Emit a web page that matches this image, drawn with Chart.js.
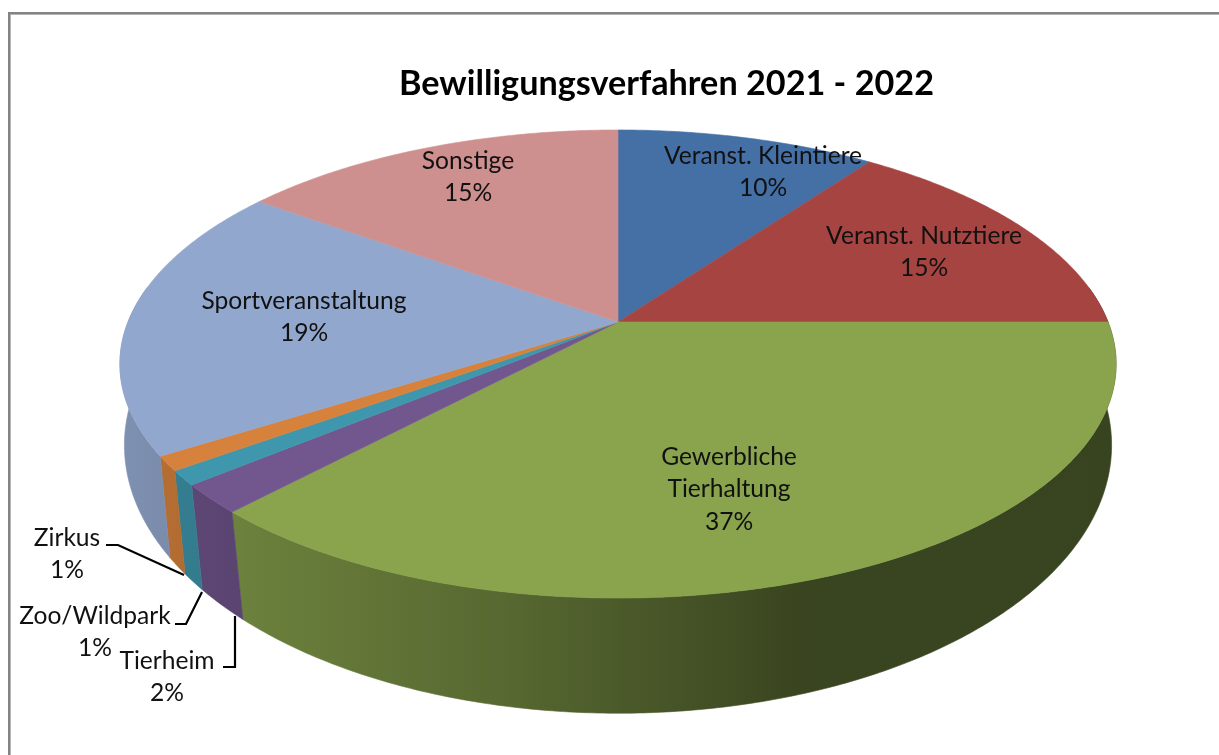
<!DOCTYPE html>
<html lang="de">
<head>
<meta charset="utf-8">
<title>Bewilligungsverfahren 2021 - 2022</title>
<script src="https://cdn.jsdelivr.net/npm/chart.js@4/dist/chart.umd.js"></script>
<style>
    html, body { margin: 0; padding: 0; background: #fff; overflow: hidden; }
    .frame {
        position: absolute; left: 8px; top: 12px; right: 0; bottom: 0;
        border-top: 2px solid #848484; border-left: 2px solid #848484;
        box-shadow: inset 1px 1px 0 #b4b4b4;
    }
    canvas { position: absolute; left: 0; top: 0; }
</style>
</head>
<body>
<div class="frame"></div>
<canvas id="chart" width="1219" height="755"></canvas>
<script>
// --- Data ---
const categories = ['Veranst. Kleintiere', 'Veranst. Nutztiere', 'Gewerbliche\nTierhaltung', 'Tierheim', 'Zoo/Wildpark', 'Zirkus', 'Sportveranstaltung', 'Sonstige'];
const shares = [10, 15, 37, 2, 1, 1, 19, 15];
const sliceColors = ['#4470A5', '#A64442', '#89A44D', '#72568E', '#3F97AD', '#D7823C', '#92A7CD', '#CE908F'];
const chartTitle = 'Bewilligungsverfahren 2021 - 2022';

// Label anchors (centre x, middle of the first line), same order as categories
const labelX = [763, 924, 729, 167, 95, 67, 304, 468];
const labelY = [156, 236, 457, 661, 616, 538, 301, 161];
const labelLineHeight = 32.5;

// Leader lines for the three thin slices
const leaders = {
    3: [[223, 667], [235, 667], [235, 616]],
    4: [[175, 624], [186, 624], [202, 592]],
    5: [[106, 545], [118, 545], [184, 575]]
};

// Perspective of the tilted disc: top face and (smaller) bottom face
const cx = 618;
const topFace = { r: 490, a: 226.5, b: 0.1795, cy: 322 };
const bottomFace = { r: 488, a: 262, b: 0.15, cy: 405 };

// Wall shading across the disc, dark towards the lower right
const wallShade = [[0, 0.87], [0.13, 0.78], [0.38, 0.64], [0.68, 0.42], [1, 0.41]];

function project(theta, face) {
    const u = Math.sin(theta);
    const v = -Math.cos(theta);
    const w = 1 - face.b * v;
    return [cx + face.r * u / w, face.cy + face.a * v / w];
}

function shade(hex, f) {
    const n = parseInt(hex.slice(1), 16);
    const r = Math.round((n >> 16) * f);
    const g = Math.round(((n >> 8) & 255) * f);
    const b = Math.round((n & 255) * f);
    return `rgb(${r},${g},${b})`;
}

function rimPoints(start, end, face) {
    const pts = [];
    const steps = Math.max(2, Math.ceil((end - start) / 0.01));
    for (let i = 0; i <= steps; i++) {
        pts.push(project(start + (end - start) * i / steps, face));
    }
    return pts;
}

function fillPath(ctx, pts, style) {
    ctx.beginPath();
    pts.forEach((p, i) => (i ? ctx.lineTo(p[0], p[1]) : ctx.moveTo(p[0], p[1])));
    ctx.closePath();
    ctx.fillStyle = style;
    ctx.strokeStyle = style;
    ctx.lineWidth = 0.6;
    ctx.fill();
    ctx.stroke();
}

// Draws the arcs of the pie controller as a perspective disc
const discPlugin = {
    id: 'disc',
    beforeDatasetDraw(chart, args) {
        const ctx = chart.ctx;
        const arcs = chart.getDatasetMeta(args.index).data;
        const wallFrom = Math.PI * 0.45;
        const wallTo = Math.PI * 1.55;

        ctx.save();
        // walls first, the faces are painted over them
        arcs.forEach(arc => {
            const start = Math.max(arc.startAngle + Math.PI / 2, wallFrom);
            const end = Math.min(arc.endAngle + Math.PI / 2, wallTo);
            if (end <= start) return;
            const grad = ctx.createLinearGradient(120, 0, 1116, 0);
            wallShade.forEach(s => grad.addColorStop(s[0], shade(arc.options.backgroundColor, s[1])));
            const pts = rimPoints(start, end, topFace).concat(rimPoints(start, end, bottomFace).reverse());
            fillPath(ctx, pts, grad);
        });
        arcs.forEach(arc => {
            const start = arc.startAngle + Math.PI / 2;
            const end = arc.endAngle + Math.PI / 2;
            const pts = [[cx, topFace.cy]].concat(rimPoints(start, end, topFace));
            fillPath(ctx, pts, arc.options.backgroundColor);
        });
        ctx.restore();
        return false;
    },
    afterDatasetsDraw(chart) {
        const ctx = chart.ctx;
        ctx.save();

        ctx.strokeStyle = '#000';
        ctx.lineWidth = 2.2;
        Object.values(leaders).forEach(line => {
            ctx.beginPath();
            line.forEach((p, i) => (i ? ctx.lineTo(p[0], p[1]) : ctx.moveTo(p[0], p[1])));
            ctx.stroke();
        });

        ctx.font = '24.6px Lato';
        ctx.fillStyle = '#111';
        ctx.textAlign = 'center';
        ctx.textBaseline = 'middle';
        categories.forEach((name, i) => {
            const lines = name.split('\n').concat(shares[i] + '%');
            lines.forEach((text, k) => ctx.fillText(text, labelX[i], labelY[i] + k * labelLineHeight));
        });
        ctx.restore();
    }
};

new Chart(document.getElementById('chart'), {
    type: 'pie',
    data: {
        labels: categories,
        datasets: [{ data: shares, backgroundColor: sliceColors, borderWidth: 0 }]
    },
    options: {
        responsive: false,
        animation: false,
        layout: { padding: { left: 114 } },
        plugins: {
            legend: { display: false },
            tooltip: { enabled: false },
            title: {
                display: true,
                text: chartTitle,
                color: '#000',
                font: { family: 'Lato', size: 34.2, weight: 'bold' },
                padding: { top: 63, bottom: 10 }
            }
        }
    },
    plugins: [discPlugin]
});
</script>
</body>
</html>
